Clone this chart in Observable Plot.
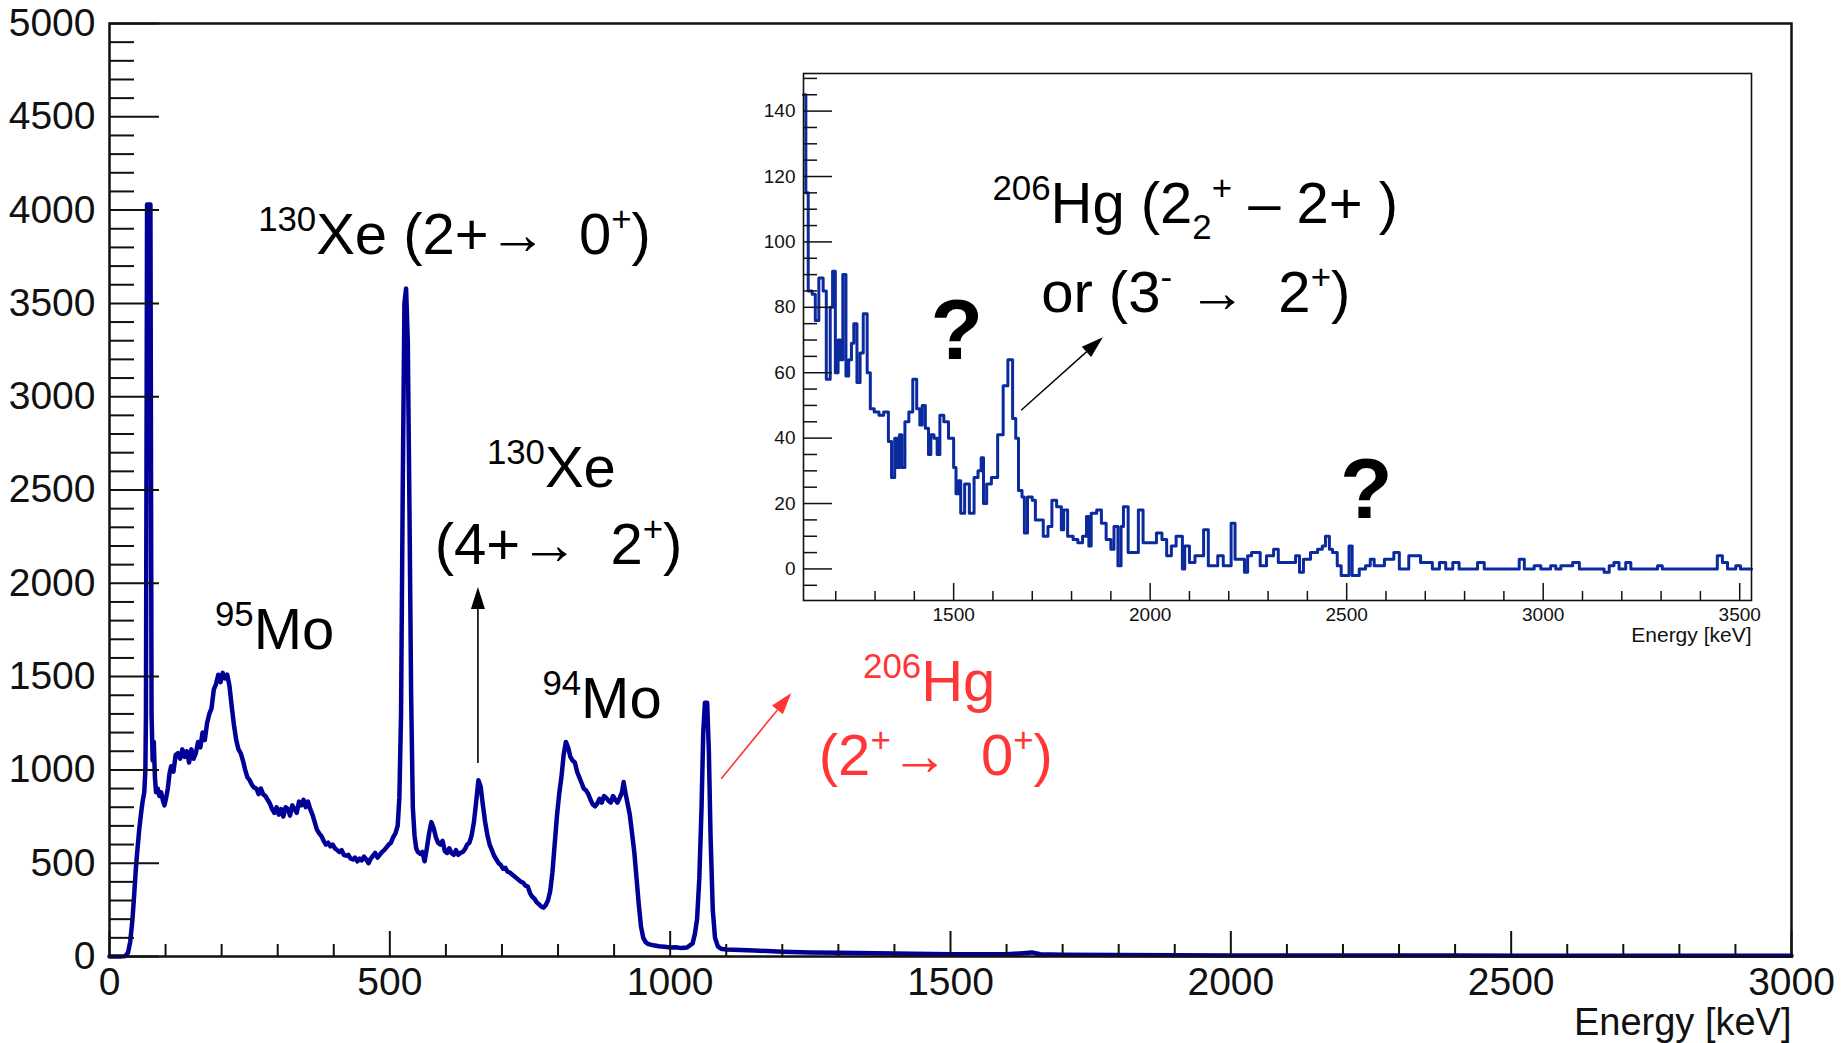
<!DOCTYPE html>
<html><head><meta charset="utf-8">
<script src="https://cdn.jsdelivr.net/npm/d3@7"></script>
<script src="https://cdn.jsdelivr.net/npm/@observablehq/plot@0.6"></script>
<style>
body{margin:0;background:#fff;}
#wrap{position:relative;width:1841px;height:1043px;overflow:hidden;background:#fff;}
#wrap svg{position:absolute;}
</style></head><body><div id="wrap"></div>
<script>
// ---------------- data ----------------
// main spectrum: [energy keV, counts]
const mainSpectrum = [[0,0],[10,0],[20,0],[28,2],[33,20],[37,80],[41,200],[44,330],[47,470],[50,580],[53,680],[56,760],[59,830],[62,880],[64,1000],[65,1300],[67,4030],[73,4030],[75,1300],[77,1050],[79,1150],[81,960],[83,880],[86,900],[89,860],[92,880],[95,840],[98,810],[101,850],[104,900],[107,980],[110,1020],[114,990],[118,1080],[122,1090],[126,1060],[130,1110],[134,1070],[138,1100],[142,1040],[146,1110],[150,1060],[154,1090],[158,1150],[162,1120],[166,1200],[170,1160],[174,1250],[178,1300],[182,1330],[186,1430],[190,1460],[194,1510],[198,1470],[202,1520],[206,1490],[210,1510],[214,1450],[218,1340],[222,1240],[226,1160],[230,1110],[234,1090],[238,1050],[242,1000],[246,960],[250,945],[254,920],[258,905],[262,900],[266,870],[270,900],[274,870],[278,860],[282,840],[286,820],[290,790],[294,770],[298,800],[302,760],[306,790],[310,750],[314,800],[318,790],[322,755],[326,810],[330,790],[334,770],[338,830],[342,810],[346,840],[350,800],[354,830],[358,790],[362,760],[366,720],[370,680],[374,660],[378,645],[382,620],[386,600],[390,610],[394,590],[398,600],[402,580],[406,570],[410,560],[414,570],[418,545],[422,540],[426,545],[430,525],[434,520],[438,530],[442,510],[446,525],[450,515],[454,535],[458,520],[462,500],[466,525],[470,540],[474,555],[478,530],[482,545],[486,560],[490,570],[494,585],[498,600],[502,610],[506,640],[510,660],[514,700],[517,850],[520,1300],[523,2500],[526,3500],[529,3580],[532,3300],[535,2400],[538,1400],[541,800],[544,650],[547,580],[550,560],[554,550],[558,560],[562,510],[566,580],[570,660],[574,720],[578,690],[582,640],[586,610],[590,600],[594,620],[598,565],[602,555],[606,580],[610,555],[614,545],[618,570],[622,545],[626,555],[630,560],[634,575],[638,600],[642,610],[646,650],[650,720],[654,830],[658,945],[662,910],[666,810],[670,720],[674,650],[678,600],[682,570],[686,540],[690,520],[694,500],[698,490],[702,470],[706,475],[710,455],[714,450],[718,440],[722,430],[726,420],[730,410],[734,400],[738,395],[742,380],[746,375],[750,340],[754,320],[758,310],[762,290],[766,280],[770,268],[774,262],[778,275],[782,300],[786,350],[790,450],[794,600],[798,750],[802,870],[806,960],[810,1080],[814,1150],[818,1120],[822,1070],[826,1050],[830,1040],[834,990],[838,960],[842,930],[846,900],[850,890],[854,870],[858,840],[862,815],[866,805],[870,820],[874,845],[878,825],[882,860],[886,850],[890,835],[894,825],[898,860],[902,840],[906,825],[910,850],[914,880],[917,935],[920,880],[924,820],[928,760],[932,660],[936,560],[940,420],[944,280],[948,160],[952,100],[956,78],[960,68],[970,60],[980,55],[990,52],[1000,48],[1010,50],[1020,45],[1030,48],[1040,70],[1044,120],[1048,200],[1052,420],[1056,800],[1059,1200],[1062,1360],[1066,1360],[1069,1100],[1072,650],[1076,250],[1080,100],[1085,55],[1090,42],[1100,38],[1150,32],[1200,26],[1250,22],[1300,20],[1400,16],[1500,12],[1600,12],[1630,18],[1645,22],[1660,12],[1700,10],[1800,8],[1900,7],[2000,6],[2200,5],[2400,5],[2600,4],[2800,4],[3000,4]];

// inset spectrum (histogram steps): [bin start keV, counts]
const insetSpectrum = [[1118,145],[1124,115],[1130,85],[1140,84],[1148,76],[1157,89],[1168,85],[1176,58],[1186,80],[1192,91],[1199,60],[1206,70],[1212,64],[1218,90],[1226,59],[1233,64],[1240,69],[1246,75],[1254,57],[1262,66],[1270,78],[1280,60],[1288,49],[1298,48],[1310,47],[1322,48],[1334,39],[1342,28],[1350,40],[1356,31],[1362,41],[1368,31],[1376,45],[1386,48],[1396,58],[1406,49],[1414,44],[1420,50],[1428,43],[1436,35],[1442,41],[1450,40],[1458,35],[1465,47],[1475,45],[1487,40],[1500,31],[1506,23],[1512,27],[1518,17],[1528,26],[1540,17],[1552,28],[1562,30],[1570,34],[1576,20],[1584,26],[1596,28],[1612,41],[1626,56],[1638,64],[1650,46],[1658,40],[1665,24],[1674,22],[1680,11],[1688,22],[1700,21],[1708,15],[1716,15],[1728,10],[1740,13],[1750,21],[1762,19],[1774,12],[1780,18],[1790,10],[1804,9],[1816,8],[1828,10],[1838,16],[1844,7],[1850,17],[1864,18],[1876,14],[1888,9],[1900,6],[1908,13],[1918,1],[1926,13],[1932,19],[1944,5],[1970,18],[1982,8],[2016,11],[2030,9],[2042,4],[2054,7],[2066,10],[2076,10],[2082,0],[2088,7],[2100,2],[2114,4],[2136,12],[2148,1],[2172,4],[2186,1],[2206,14],[2216,3],[2240,-1],[2248,4],[2258,5],[2280,1],[2296,4],[2314,6],[2326,2],[2370,4],[2380,-1],[2390,3],[2408,5],[2426,6],[2438,7],[2446,10],[2456,6],[2464,5],[2476,1],[2486,-2],[2506,7],[2514,-2],[2532,0],[2548,1],[2560,3],[2570,1],[2596,3],[2612,3],[2620,5],[2634,0],[2658,4],[2688,2],[2718,0],[2736,2],[2752,0],[2770,2],[2786,0],[2833,2],[2850,0],[2939,3],[2952,0],[2977,1],[2994,0],[3019,1],[3032,0],[3045,1],[3075,2],[3092,0],[3155,-1],[3168,1],[3180,2],[3193,0],[3210,2],[3223,0],[3291,1],[3303,0],[3443,4],[3456,2],[3469,0],[3490,1],[3502,0],[3530,0]];

const mainXMajor = [0,500,1000,1500,2000,2500,3000];
const mainYMajor = [0,500,1000,1500,2000,2500,3000,3500,4000,4500,5000];
const insetXMajor = [1500,2000,2500,3000,3500];
const insetYMajor = [0,20,40,60,80,100,120,140];
const xTitle = "Energy [keV]";

// annotations: anchor (start of text, baseline) in data units
const mainLabels = [
  {e:266, c:3760, color:"#000", parts:[["130","sup"],["Xe (2+"],["\u2192 "],[" 0"],["+","sup"],[")"]]},
  {e:189, c:1643, color:"#000", parts:[["95","sup"],["Mo"]]},
  {e:674, c:2513, color:"#000", parts:[["130","sup"],["Xe"]]},
  {e:581, c:2102, color:"#000", parts:[["(4+"],["\u2192 "],[" 2"],["+","sup"],[")"]]},
  {e:773, c:1277, color:"#000", parts:[["94","sup"],["Mo"]]},
  {e:1345, c:1366, color:"#ff3636", parts:[["206","sup"],["Hg"]]},
  {e:1266, c:968, color:"#ff3636", parts:[["(2"],["+","sup"],["\u2192 "],[" 0"],["+","sup"],[")"]]}
];
const insetLabels = [
  {e:1600, c:105.7, color:"#000", parts:[["206","sup"],["Hg (2"],["2","sub"],["+","sup"],[" \u2013 2+ )"]]},
  {e:1724, c:78.3, color:"#000", parts:[["or (3"],["-","sup"],[" \u2192  2"],["+","sup"],[")"]]}
];
const insetMarks = [{e:1509, c:64, t:"?"}, {e:2551, c:15.5, t:"?"}];
const mainArrows = [
  {e1:658, c1:1034, e2:658, c2:1977, color:"#000"},
  {e1:1092, c1:950, e2:1217, c2:1410, color:"#ff3636"}
];
const insetArrows = [{e1:1673, c1:48.4, e2:1881, c2:70.7, color:"#000"}];

// ---------------- drawing ----------------
const FONT = "'Liberation Sans', Arial, Helvetica, sans-serif";
const W = 1841, H = 1043;
const mL = 109, mR = 50, mT = 23, mB = 87;
const fw = W - mL - mR, fh = H - mT - mB;
const LABEL_SIZE = 58;

const mainData = mainSpectrum.map(([e, c]) => ({e, c}));
const mainXMinor = d3.range(0, 3001, 100).filter(v => v % 500 !== 0);
const mainYMinor = d3.range(0, 5001, 100).filter(v => v % 500 !== 0);

const main = Plot.plot({
  width: W, height: H,
  marginLeft: mL, marginRight: mR, marginTop: mT, marginBottom: mB,
  style: {background: "transparent", fontFamily: FONT, color: "#111", overflow: "visible"},
  x: {domain: [0, 3000]},
  y: {domain: [0, 5000]},
  marks: [
    Plot.line(mainData, {x: "e", y: "c", stroke: "#000096", strokeWidth: 4.5, strokeLinejoin: "round"}),
    Plot.tickX(mainXMinor, {x: d => d, insetTop: fh - 12, stroke: "#111", strokeWidth: 2}),
    Plot.tickX(mainXMajor, {x: d => d, insetTop: fh - 25, stroke: "#111", strokeWidth: 2}),
    Plot.tickY(mainYMinor, {y: d => d, insetRight: fw - 25, stroke: "#111", strokeWidth: 2}),
    Plot.tickY(mainYMajor, {y: d => d, insetRight: fw - 50, stroke: "#111", strokeWidth: 2}),
    Plot.frame({stroke: "#111", strokeWidth: 2.5}),
    Plot.axisX(mainXMajor, {tickSize: 0, tickPadding: 11, fontSize: 39, tickFormat: d => String(d), label: null}),
    Plot.axisY(mainYMajor, {tickSize: 0, tickPadding: 14, fontSize: 39, tickFormat: d => String(d), label: null}),
    Plot.text([xTitle], {frameAnchor: "bottom-right", dy: 78, lineAnchor: "bottom", textAnchor: "end", fontSize: 38, fill: "#111"})
  ]
});

// inset
const iL = 50, iR = 5, iT = 5, iB = 60;
const ifw = 948, ifh = 527;
const iW = iL + ifw + iR, iH = iT + ifh + iB;
const insetData = insetSpectrum.map(([e, c]) => ({e, c}));
const insetXMinor = d3.range(1200, 3501, 100).filter(v => v % 500 !== 0);
const insetYMinor = d3.range(-5, 151, 5).filter(v => v % 20 !== 0);

const inset = Plot.plot({
  width: iW, height: iH,
  marginLeft: iL, marginRight: iR, marginTop: iT, marginBottom: iB,
  style: {background: "transparent", fontFamily: FONT, color: "#111", overflow: "visible"},
  x: {domain: [1118, 3530]},
  y: {domain: [-9.65, 151.5]},
  marks: [
    Plot.line(insetData, {x: "e", y: "c", curve: "step-after", stroke: "#0b2a9e", strokeWidth: 3}),
    Plot.tickX(insetXMinor, {x: d => d, insetTop: ifh - 9, stroke: "#111", strokeWidth: 1.5}),
    Plot.tickX(insetXMajor, {x: d => d, insetTop: ifh - 17, stroke: "#111", strokeWidth: 1.5}),
    Plot.tickY(insetYMinor, {y: d => d, insetRight: ifw - 14, stroke: "#111", strokeWidth: 1.5}),
    Plot.tickY(insetYMajor, {y: d => d, insetRight: ifw - 29, stroke: "#111", strokeWidth: 1.5}),
    Plot.frame({stroke: "#111", strokeWidth: 1.6}),
    Plot.axisX(insetXMajor, {tickSize: 0, tickPadding: 7, fontSize: 19, tickFormat: d => String(d), label: null}),
    Plot.axisY(insetYMajor, {tickSize: 0, tickPadding: 8, fontSize: 19, tickFormat: d => String(d), label: null}),
    Plot.text([xTitle], {frameAnchor: "bottom-right", dy: 41, lineAnchor: "bottom", textAnchor: "end", fontSize: 21, fill: "#111"})
  ]
});

const wrap = document.getElementById("wrap");
main.style.left = "0px"; main.style.top = "0px";
inset.style.left = (803 - iL) + "px"; inset.style.top = (73 - iT) + "px";
wrap.appendChild(main);
wrap.appendChild(inset);

function rich(svg, x, y, size, color, parts) {
  const t = svg.append("text").attr("x", x).attr("y", y)
    .attr("text-anchor", "start")
    .attr("font-size", size).attr("fill", color).attr("font-family", FONT)
    .style("white-space", "pre");
  let shift = 0;
  for (const [txt, kind] of parts) {
    const target = kind === "sup" ? -0.40 * size : kind === "sub" ? 0.28 * size : 0;
    const s = t.append("tspan").text(txt).attr("dy", target - shift);
    if (kind) s.attr("font-size", size * 0.6);
    shift = target;
  }
}
function arrow(svg, x1, y1, x2, y2, color, w, hl, hw) {
  const dx = x2 - x1, dy = y2 - y1, L = Math.hypot(dx, dy);
  const ux = dx / L, uy = dy / L;
  const bx = x2 - ux * hl, by = y2 - uy * hl;
  svg.append("line").attr("x1", x1).attr("y1", y1).attr("x2", bx).attr("y2", by)
    .attr("stroke", color).attr("stroke-width", w);
  svg.append("path")
    .attr("d", `M${x2},${y2}L${bx - uy * hw / 2},${by + ux * hw / 2}L${bx + uy * hw / 2},${by - ux * hw / 2}Z`)
    .attr("fill", color);
}

const ms = d3.select(main), mx = main.scale("x"), my = main.scale("y");
for (const a of mainLabels) rich(ms, mx.apply(a.e), my.apply(a.c), LABEL_SIZE, a.color, a.parts);
for (const a of mainArrows) arrow(ms, mx.apply(a.e1), my.apply(a.c1), mx.apply(a.e2), my.apply(a.c2), a.color, 1.6, 22, 14);

const is = d3.select(inset), ix = inset.scale("x"), iy = inset.scale("y");
for (const a of insetLabels) rich(is, ix.apply(a.e), iy.apply(a.c), LABEL_SIZE, a.color, a.parts);
for (const q of insetMarks) is.append("text").attr("x", ix.apply(q.e)).attr("y", iy.apply(q.c))
  .attr("text-anchor", "middle").attr("font-size", 86).attr("font-weight", "bold")
  .attr("font-family", FONT).attr("fill", "#000").text(q.t);
for (const a of insetArrows) arrow(is, ix.apply(a.e1), iy.apply(a.c1), ix.apply(a.e2), iy.apply(a.c2), a.color, 1.4, 22, 14);
</script>
</body></html>
